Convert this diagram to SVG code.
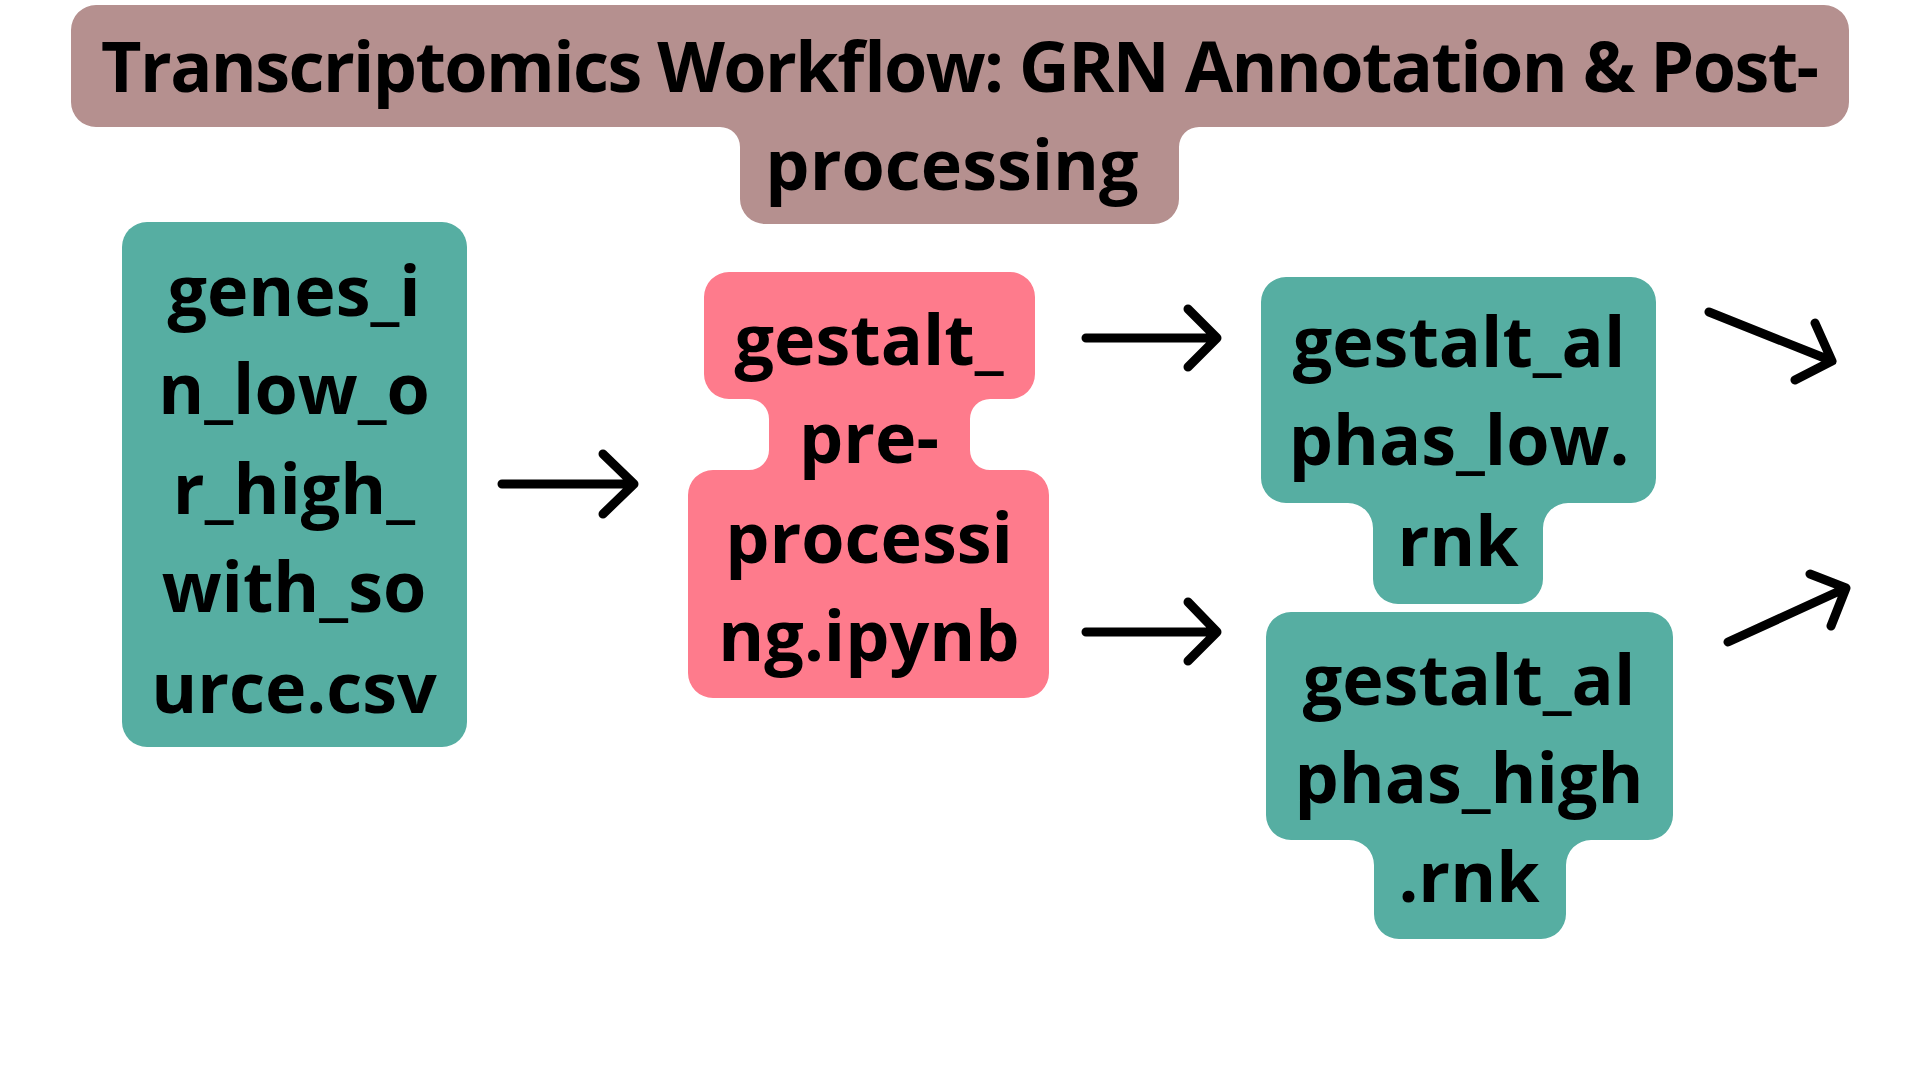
<svg xmlns="http://www.w3.org/2000/svg" width="1920" height="1080" viewBox="0 0 1920 1080">
<style>
.t{font-family:"Open Sans","Noto Sans","Liberation Sans",sans-serif;font-weight:700;font-size:70px;fill:#000;text-anchor:middle}
.teal{fill:#56AEA2}
.pink{fill:#FE7B8C}
.title{fill:#B5908F}
.c{fill:none;stroke:#000;stroke-width:9;stroke-linecap:round;stroke-linejoin:round}
</style>
<rect width="1920" height="1080" fill="#fff"/>
<g id="title">
<path class="title" d="M96,5 H1824 a25 25 0 0 1 25 25 V102 a25 25 0 0 1 -25 25 H1199 a20 20 0 0 0 -20 20 V199 a25 25 0 0 1 -25 25 H765 a25 25 0 0 1 -25 -25 V147 a20 20 0 0 0 -20 -20 H96 a25 25 0 0 1 -25 -25 V30 a25 25 0 0 1 25 -25 Z"/>
<text class="t" x="960" y="92" textLength="1718" lengthAdjust="spacing">Transcriptomics Workflow: GRN Annotation &amp; Post-</text>
<text class="t" x="952" y="190">processing</text>
</g>
<g id="node-genes">
<rect class="teal" x="122" y="222" width="345" height="525" rx="25"/>
<text class="t" x="294" y="316">genes_i</text>
<text class="t" x="294" y="414">n_low_o</text>
<text class="t" x="294" y="514">r_high_</text>
<text class="t" x="294" y="612">with_so</text>
<text class="t" x="294" y="713">urce.csv</text>
</g>
<g id="node-preprocessing">
<path class="pink" d="M729,272 H1010 a25 25 0 0 1 25 25 V374 a25 25 0 0 1 -25 25 H990 a20 20 0 0 0 -20 20 V450 a20 20 0 0 0 20 20 H1024 a25 25 0 0 1 25 25 V673 a25 25 0 0 1 -25 25 H713 a25 25 0 0 1 -25 -25 V495 a25 25 0 0 1 25 -25 H749 a20 20 0 0 0 20 -20 V419 a20 20 0 0 0 -20 -20 H729 a25 25 0 0 1 -25 -25 V297 a25 25 0 0 1 25 -25 Z"/>
<text class="t" x="869" y="365">gestalt_</text>
<text class="t" x="869" y="463">pre-</text>
<text class="t" x="869" y="563">processi</text>
<text class="t" x="869" y="661">ng.ipynb</text>
</g>
<g id="node-low">
<path class="teal" d="M1286,277 H1631 a25 25 0 0 1 25 25 V478 a25 25 0 0 1 -25 25 H1568 a25 25 0 0 0 -25 25 V579 a25 25 0 0 1 -25 25 H1398 a25 25 0 0 1 -25 -25 V528 a25 25 0 0 0 -25 -25 H1286 a25 25 0 0 1 -25 -25 V302 a25 25 0 0 1 25 -25 Z"/>
<text class="t" x="1459" y="367">gestalt_al</text>
<text class="t" x="1459" y="465">phas_low.</text>
<text class="t" x="1458" y="566">rnk</text>
</g>
<g id="node-high">
<path class="teal" d="M1291,612 H1648 a25 25 0 0 1 25 25 V815 a25 25 0 0 1 -25 25 H1591 a25 25 0 0 0 -25 25 V914 a25 25 0 0 1 -25 25 H1399 a25 25 0 0 1 -25 -25 V865 a25 25 0 0 0 -25 -25 H1291 a25 25 0 0 1 -25 -25 V637 a25 25 0 0 1 25 -25 Z"/>
<text class="t" x="1469" y="705">gestalt_al</text>
<text class="t" x="1469" y="803">phas_high</text>
<text class="t" x="1469" y="902">.rnk</text>
</g>
<g id="connectors">
<path class="c" d="M502,484 H634 M603,454 L634,484 L603,514"/>
<path class="c" d="M1086,338 H1217 M1188,309 L1217,338 L1188,367"/>
<path class="c" d="M1086,632 H1217 M1188,602 L1217,632 L1188,661"/>
<path class="c" d="M1709,312 L1832,361 M1815,323 L1832,361 L1795,380"/>
<path class="c" d="M1728,642 L1846,588 M1810,574 L1846,588 L1831,626"/>
</g>
</svg>
